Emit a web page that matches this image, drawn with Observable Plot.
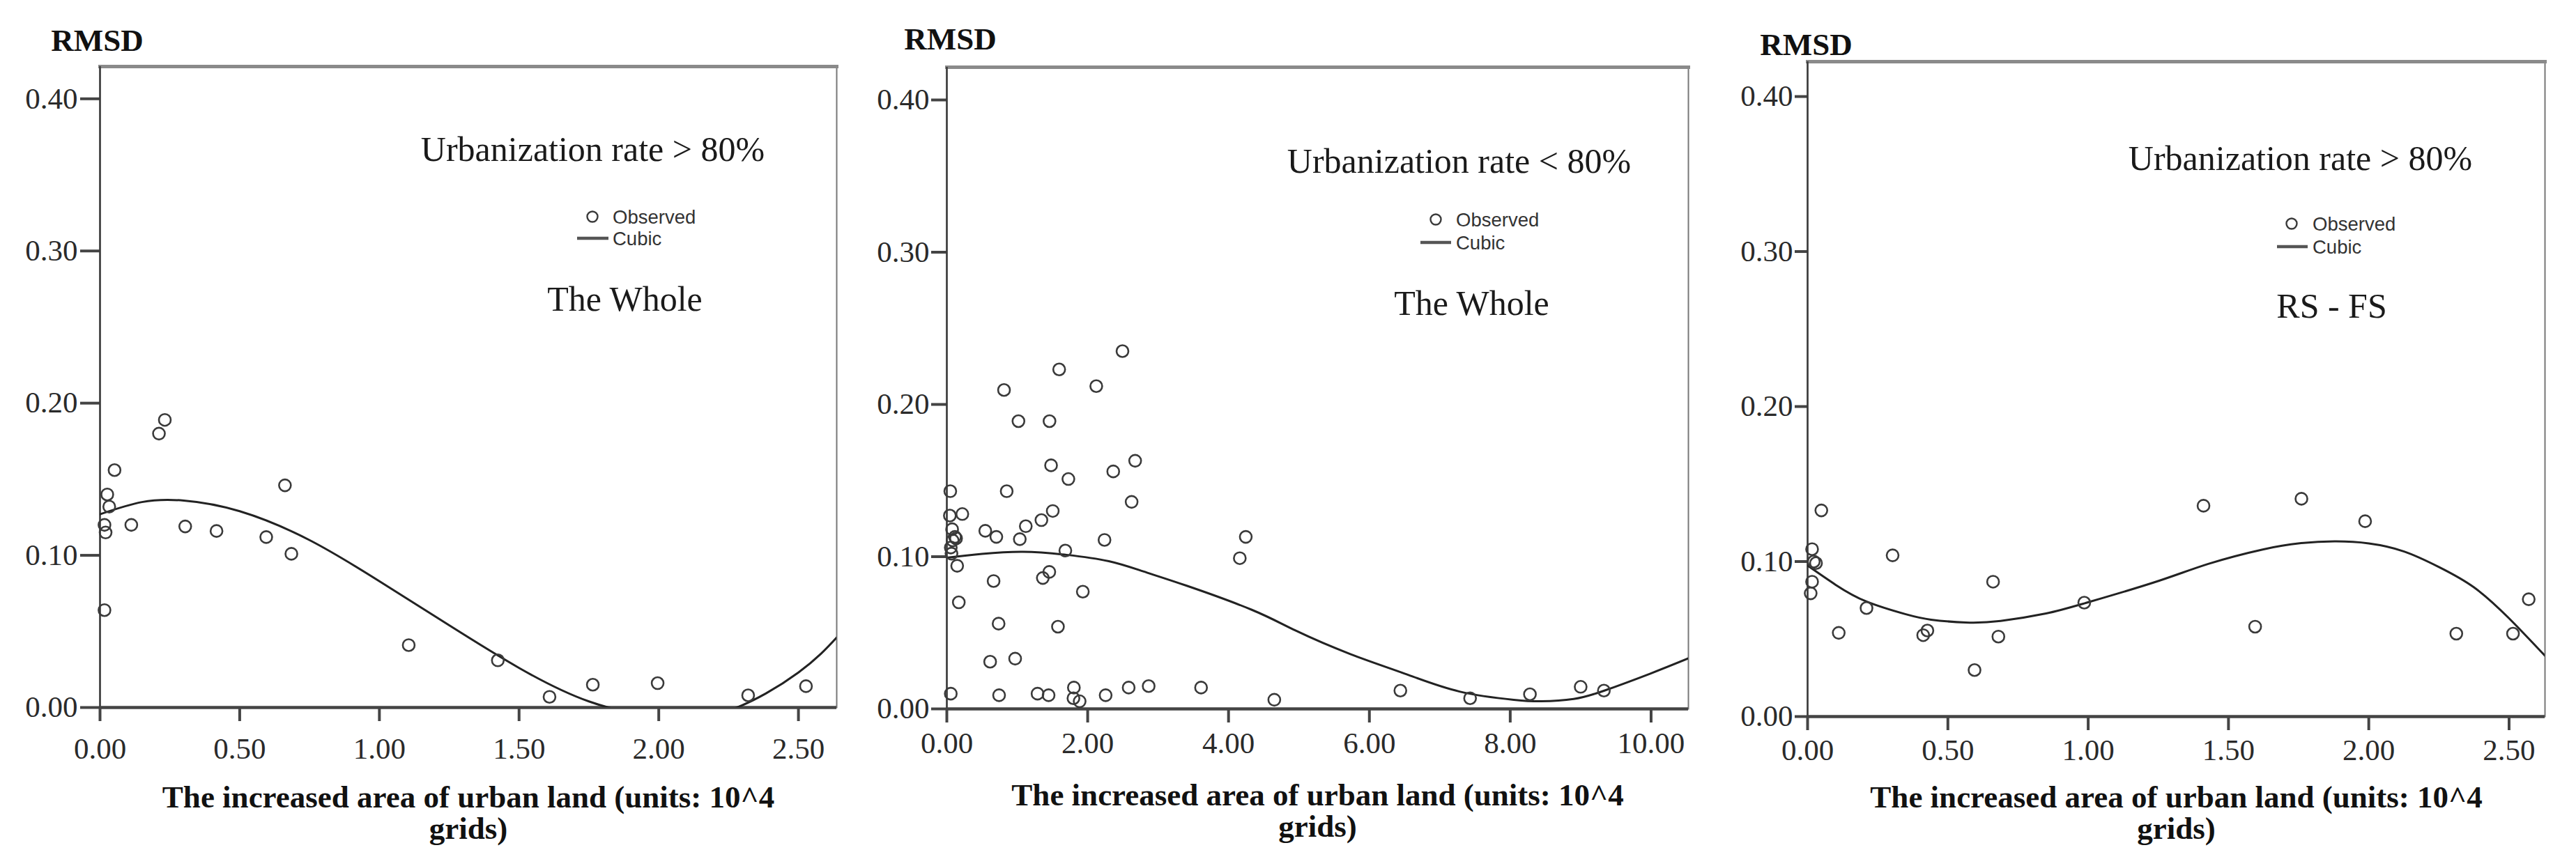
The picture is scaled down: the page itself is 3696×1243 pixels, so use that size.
<!DOCTYPE html>
<html><head><meta charset="utf-8">
<script src="https://cdn.jsdelivr.net/npm/d3@7"></script>
<script src="https://cdn.jsdelivr.net/npm/@observablehq/plot@0.6"></script>
<style>
html,body{margin:0;padding:0;background:#fff;}
#wrap{position:relative;width:3696px;height:1243px;overflow:hidden;background:#fff;}
.panel{position:absolute;top:0;width:1232px;height:1243px;}
</style></head><body><div id="wrap"></div>
<script>
// ---- text & ticks ----
const yTicks = [0, 0.1, 0.2, 0.3, 0.4];
const xTicksSmall = [0, 0.5, 1, 1.5, 2, 2.5];
const xTicksLarge = [0, 2, 4, 6, 8, 10];
const yLabel = "RMSD";
const xTitle = "The increased area of urban land (units: 10^4\ngrids)";
const legendLabels = ["Observed", "Cubic"];
const panelTitles = ["Urbanization rate > 80%", "Urbanization rate < 80%", "Urbanization rate > 80%"];
const panelSubtitles = ["The Whole", "The Whole", "RS - FS"];

// ---- panel 1: observed ----
const obs1X = [0.232, 0.211, 0.052, 0.026, 0.033, 0.016, 0.020, 0.112, 0.305, 0.417, 0.595, 0.662, 0.685, 0.016, 1.105, 1.424, 1.609, 1.764, 1.996, 2.320, 2.527];
const obs1Y = [0.189, 0.180, 0.156, 0.140, 0.132, 0.120, 0.115, 0.120, 0.119, 0.116, 0.112, 0.146, 0.101, 0.064, 0.041, 0.031, 0.007, 0.015, 0.016, 0.008, 0.014];
// panel 1: cubic curve
const fit1X = [0, 0.15, 0.30, 0.50, 0.75, 1.00, 1.25, 1.50, 1.75, 2.00, 2.25, 2.50, 2.637];
const fit1Y = [0.127, 0.135, 0.136, 0.129, 0.110, 0.083, 0.054, 0.026, 0.004, -0.006, -0.002, 0.023, 0.046];

// ---- panel 2 ----
const obs2X = [2.494, 1.595, 0.812, 2.122, 1.017, 1.458, 1.480, 1.726, 2.363, 2.674, 2.624, 0.049, 0.850, 0.043, 0.220, 1.504, 1.343, 1.121, 0.075, 0.546, 0.703, 1.036, 2.239, 0.115, 0.082, 0.131, 0.056, 0.066, 1.683, 0.147, 0.664, 1.363, 1.455, 1.931, 0.170, 0.735, 1.578, 0.615, 0.970, 0.056, 0.742, 1.288, 1.445, 1.804, 1.798, 1.886, 2.255, 2.582, 2.866, 3.610, 4.650, 6.440, 7.430, 8.280, 9.000, 9.330, 4.245, 4.160];
const obs2Y = [0.235, 0.223, 0.2095, 0.212, 0.189, 0.189, 0.160, 0.151, 0.156, 0.163, 0.136, 0.143, 0.143, 0.127, 0.128, 0.130, 0.124, 0.120, 0.118, 0.117, 0.113, 0.1115, 0.111, 0.113, 0.1107, 0.112, 0.106, 0.102, 0.104, 0.094, 0.084, 0.086, 0.090, 0.077, 0.070, 0.056, 0.054, 0.031, 0.033, 0.010, 0.009, 0.010, 0.009, 0.014, 0.007, 0.005, 0.009, 0.014, 0.015, 0.014, 0.006, 0.012, 0.007, 0.0096, 0.0145, 0.012, 0.113, 0.099];
const fit2X = [0, 0.5, 1.08, 1.7, 2.3, 2.79, 3.4, 4.33, 4.95, 5.73, 6.5, 7.28, 8.05, 8.44, 8.9, 9.33, 9.99, 10.53];
const fit2Y = [0.0993, 0.1018, 0.1032, 0.1012, 0.097, 0.0903, 0.081, 0.0651, 0.0515, 0.036, 0.0232, 0.0114, 0.006, 0.005, 0.0065, 0.0119, 0.0232, 0.0332];

// ---- panel 3 ----
const obs3X = [0.049, 0.016, 0.022, 0.030, 0.016, 0.011, 0.303, 0.661, 0.210, 0.111, 0.427, 0.412, 0.680, 0.595, 0.986, 1.411, 1.595, 1.760, 1.987, 2.312, 2.514, 2.570];
const obs3Y = [0.133, 0.108, 0.100, 0.099, 0.087, 0.0795, 0.104, 0.087, 0.070, 0.054, 0.0555, 0.0525, 0.0516, 0.030, 0.0735, 0.136, 0.058, 0.1405, 0.126, 0.0535, 0.0535, 0.0757];
const fit3X = [0, 0.1, 0.21, 0.35, 0.44, 0.564, 0.688, 0.85, 0.986, 1.234, 1.428, 1.622, 1.754, 1.878, 2.0, 2.126, 2.25, 2.374, 2.498, 2.628];
const fit3Y = [0.0974, 0.085, 0.0742, 0.066, 0.0625, 0.0607, 0.0617, 0.0665, 0.073, 0.0865, 0.0985, 0.1078, 0.1118, 0.1130, 0.1117, 0.1065, 0.0965, 0.0835, 0.0637, 0.0392];

const domainsX = [[0, 2.637], [0, 10.53], [0, 2.628]];
const domainsY = [[0, 0.4212], [0, 0.4215], [0, 0.4225]];

// ---- layout (pixels) ----
const layout = [
  {left: 0,    ml: 143, mr: 32, mt: 95, mb: 228, yTick: 28, yPad: 4, xPad: 23, titleBase: 1203,
   rmsd: [139, 72], head: [850, 230], sub: [896, 445], dot: [850, 311], txtX: 879, txtB: [321, 352], line: [828, 873, 342]},
  {left: 1232, ml: 126, mr: 42, mt: 96, mb: 226, yTick: 22, yPad: 3, xPad: 13, titleBase: 1200,
   rmsd: [131, 70], head: [861, 247], sub: [879, 451], dot: [828, 315], txtX: 857, txtB: [325, 358], line: [806, 850, 348]},
  {left: 2464, ml: 129, mr: 45, mt: 88, mb: 215, yTick: 18, yPad: 3, xPad: 12, titleBase: 1203,
   rmsd: [127, 78], head: [836, 243], sub: [881, 455], dot: [824, 321], txtX: 854, txtB: [331, 364], line: [803, 847, 354]}
];

const zip = (xs, ys) => xs.map((x, i) => ({x, y: ys[i]}));
const panels = [
  {obs: zip(obs1X, obs1Y), fit: zip(fit1X, fit1Y), xt: xTicksSmall},
  {obs: zip(obs2X, obs2Y), fit: zip(fit2X, fit2Y), xt: xTicksLarge},
  {obs: zip(obs3X, obs3Y), fit: zip(fit3X, fit3Y), xt: xTicksSmall}
];

const W = 1232, H = 1243;
const wrap = document.getElementById("wrap");
const serif = "'Liberation Serif', 'Times New Roman', serif";
const sans = "'Liberation Sans', Arial, sans-serif";
const fmt = d3.format(".2f");

panels.forEach((p, i) => {
  const L = layout[i];
  const axisY = H - L.mb;
  const chart = Plot.plot({
    width: W, height: H,
    marginLeft: L.ml, marginRight: L.mr, marginTop: L.mt, marginBottom: L.mb,
    x: {domain: domainsX[i]},
    y: {domain: domainsY[i]},
    style: {fontFamily: serif, color: "#222", background: "white", overflow: "visible"},
    marks: [
      Plot.frame({stroke: "#777", strokeWidth: 2}),
      Plot.frame({anchor: "top", stroke: "#8a8a8a", strokeWidth: 5}),
      Plot.axisY(yTicks, {tickSize: L.yTick, tickPadding: L.yPad, tickFormat: fmt, strokeWidth: 4, stroke: "#444", fontSize: 43, label: null, fill: "#2a2a2a"}),
      Plot.axisX(p.xt, {tickSize: 20, tickPadding: L.xPad, tickFormat: fmt, strokeWidth: 4, stroke: "#444", fontSize: 43, label: null, fill: "#2a2a2a"}),
      Plot.ruleX([0], {stroke: "#3a3a3a", strokeWidth: 2.5}),
      Plot.ruleY([0], {stroke: "#444", strokeWidth: 4.5}),
      Plot.line(p.fit, {x: "x", y: "y", curve: "natural", clip: true, stroke: "#222", strokeWidth: 3}),
      Plot.dot(p.obs, {x: "x", y: "y", r: 8.5, stroke: "#3a3a3a", strokeWidth: 2.6, fill: "none"}),
      Plot.text([yLabel], {frameAnchor: "top-left", dx: L.rmsd[0] - L.ml, dy: L.rmsd[1] - L.mt, lineAnchor: "bottom", textAnchor: "middle", fontWeight: "bold", fontSize: 45, fill: "#111"}),
      Plot.text([panelTitles[i]], {frameAnchor: "top-left", dx: L.head[0] - L.ml, dy: L.head[1] - L.mt, lineAnchor: "bottom", textAnchor: "middle", fontSize: 50, fill: "#1a1a1a"}),
      Plot.text([panelSubtitles[i]], {frameAnchor: "top-left", dx: L.sub[0] - L.ml, dy: L.sub[1] - L.mt, lineAnchor: "bottom", textAnchor: "middle", fontSize: 50, fill: "#1a1a1a"}),
      Plot.text([xTitle], {frameAnchor: "bottom", dy: L.titleBase - axisY, lineAnchor: "bottom", lineHeight: 0.98, textAnchor: "middle", fontWeight: "bold", fontSize: 45, fill: "#111"})
    ]
  });
  // legend (inside the plot, like the SPSS original)
  const svg = d3.select(chart);
  const lg = svg.append("g").attr("class", "legend").attr("text-anchor", "start");
  lg.append("circle").attr("cx", L.dot[0]).attr("cy", L.dot[1]).attr("r", 7.5)
    .attr("fill", "none").attr("stroke", "#3a3a3a").attr("stroke-width", 2.4);
  lg.append("line").attr("x1", L.line[0]).attr("x2", L.line[1]).attr("y1", L.line[2]).attr("y2", L.line[2])
    .attr("stroke", "#555").attr("stroke-width", 4.5);
  legendLabels.forEach((t, k) => {
    lg.append("text").attr("x", L.txtX).attr("y", L.txtB[k]).text(t)
      .attr("text-anchor", "start")
      .attr("font-family", sans).attr("font-size", 27.5).attr("fill", "#333");
  });
  const div = document.createElement("div");
  div.className = "panel";
  div.style.left = L.left + "px";
  div.appendChild(chart);
  wrap.appendChild(div);
});
</script>
</body></html>
